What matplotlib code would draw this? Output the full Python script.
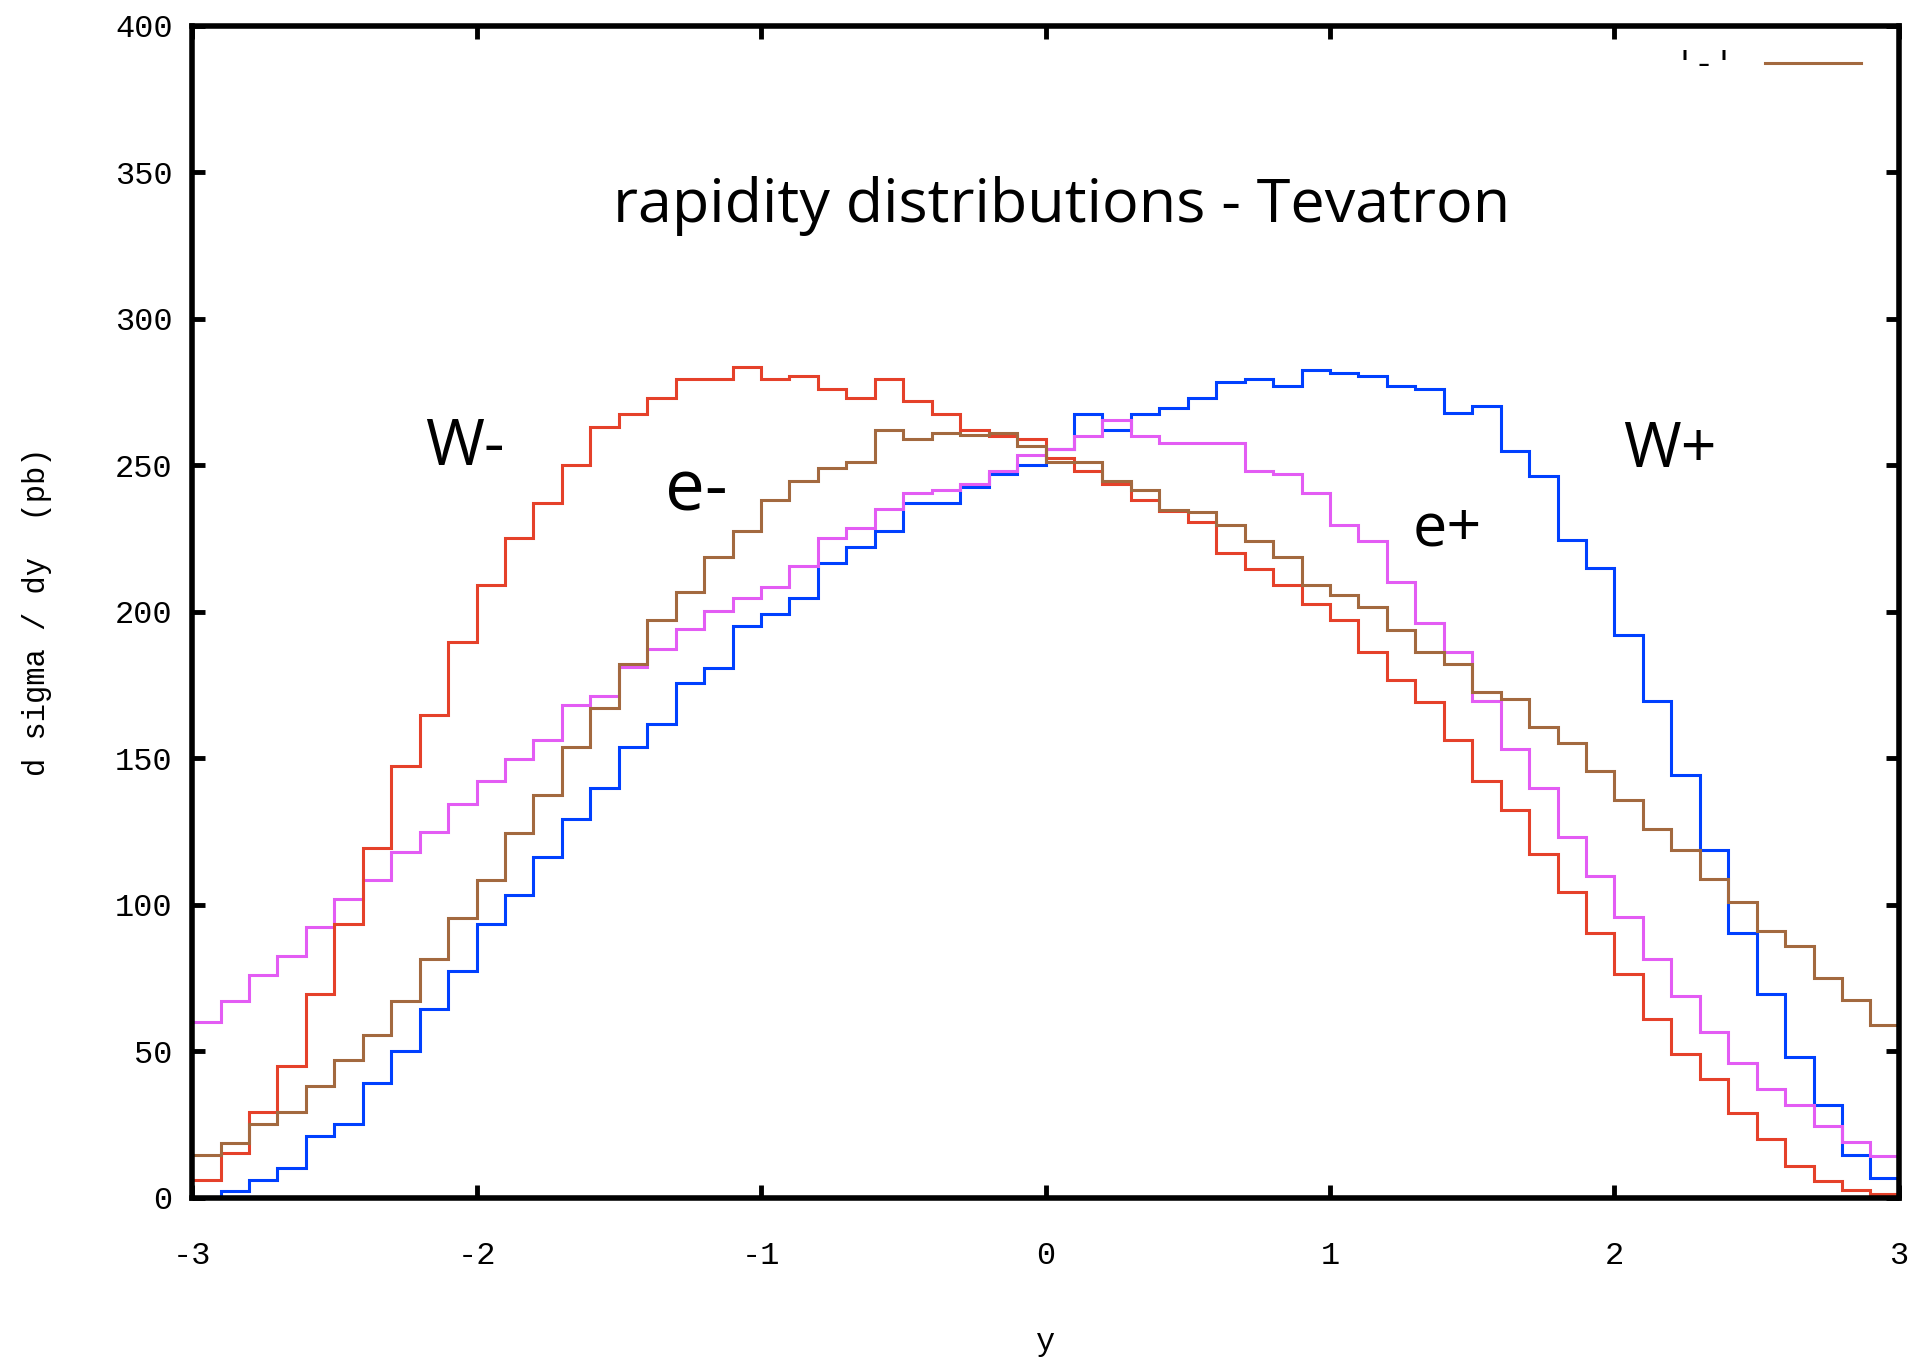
import numpy as np
import matplotlib
matplotlib.use('Agg')
import matplotlib.pyplot as plt

# bin edges in rapidity y (60 bins of 0.1)
edges = np.linspace(-3, 3, 61)

# d sigma / dy (pb), read bin by bin from the plot
w_minus = [6, 15.4, 29.4, 44.8, 69.6, 93.3, 119.3, 147.5, 164.7, 189.6,
           209.1, 225.2, 237.1, 250.1, 263.1, 267.6, 273, 279.5, 279.5, 283.6,
           279.5, 280.5, 276.1, 273, 279.5, 272, 267.6, 262.2, 260.1, 259,
           252.4, 248.2, 243.7, 238.2, 234.3, 230.6, 219.9, 214.6, 209.1, 202.6,
           197.2, 186.2, 176.7, 169.2, 156.3, 142.4, 132.4, 117.4, 104.3, 90.3,
           76.2, 61, 49.2, 40.6, 28.8, 19.9, 10.9, 5.7, 2.7, 1.4]
w_plus = [0, 2.3, 5.9, 10, 20.9, 25.3, 39.3, 50.1, 64.3, 77.3,
          93.3, 103.3, 116.3, 129.3, 139.8, 154, 161.6, 175.6, 180.9, 195.2,
          199.2, 204.7, 216.6, 222.1, 227.7, 237.2, 237.2, 242.7, 247.1, 250.2,
          255.5, 267.5, 262.2, 267.5, 269.5, 273, 278.5, 279.5, 277.2, 282.6,
          281.6, 280.6, 277.2, 276.2, 268, 270.1, 254.9, 246.3, 224.5, 215,
          192, 169.4, 144.4, 118.6, 90.5, 69.6, 48.1, 31.8, 14.5, 6.8]
e_plus = [59.8, 67.3, 76.1, 82.6, 92.3, 102, 108.5, 118.1, 124.7, 134.5,
          142.2, 149.7, 156.2, 168.1, 171.1, 181, 187.4, 194.1, 200.3, 204.7,
          208.3, 215.6, 225.2, 228.5, 235.1, 240.5, 241.6, 243.6, 248, 253.5,
          255.7, 260.1, 265.6, 260.1, 257.6, 257.6, 257.6, 248, 247.1, 240.6,
          229.6, 224.3, 210.1, 196.1, 186.2, 169.6, 153.1, 139.9, 123.1, 109.8,
          95.7, 81.4, 68.7, 56.5, 46, 37, 31.8, 24.3, 19, 14.3]
e_minus = [14.5, 18.8, 25.3, 29.4, 38.2, 46.9, 55.4, 67.3, 81.4, 95.5,
           108.5, 124.6, 137.6, 153.8, 167, 182.2, 197.2, 206.9, 218.6, 227.7,
           238.2, 244.6, 249.1, 251, 262.1, 258.9, 260.9, 260.3, 261, 256.7,
           251.2, 251.1, 244.5, 241.6, 234.8, 234, 229.6, 224.1, 218.7, 209.1,
           205.7, 201.6, 193.9, 186.2, 182.3, 172.5, 170.3, 160.6, 155.3, 145.6,
           135.8, 125.9, 118.6, 108.8, 100.9, 91.2, 85.9, 75, 67.4, 59]

xticks = [-3, -2, -1, 0, 1, 2, 3]
yticks = [0, 50, 100, 150, 200, 250, 300, 350, 400]

mono = 'Liberation Mono'
sans = 'Open Sans'

fig = plt.figure(figsize=(19.21, 13.61), dpi=100)
ax = fig.add_axes([0.1, 0.12, 0.8885, 0.861])

lw = 2.2
ax.stairs(w_plus, edges, color='#0040ff', lw=lw, baseline=None)
ax.stairs(e_plus, edges, color='#e35cf4', lw=lw, baseline=None)
ax.stairs(w_minus, edges, color='#e5412a', lw=lw, baseline=None)
ax.stairs(e_minus, edges, color='#a3693f', lw=lw, baseline=None, label="'-'")

ax.set_xlim(-3, 3)
ax.set_ylim(0, 400)
ax.set_xticks(xticks)
ax.set_yticks(yticks)
ax.set_xticklabels([str(v) for v in xticks], fontfamily=mono, fontsize=23)
ax.set_yticklabels([str(v) for v in yticks], fontfamily=mono, fontsize=23)
ax.tick_params(direction='in', length=9.5, width=3.5, top=True, right=True)
ax.tick_params(axis='x', pad=31)
ax.tick_params(axis='y', pad=14)
for s in ax.spines.values():
    s.set_linewidth(4)

ax.set_xlabel('y', fontfamily=mono, fontsize=23)
ax.set_ylabel('d sigma / dy  (pb)', fontfamily=mono, fontsize=22)
ax.xaxis.set_label_coords(0.5, -0.11)
ax.yaxis.set_label_coords(-0.082, 0.5)

ax.legend(loc='upper right', bbox_to_anchor=(0.978, 0.979), frameon=False,
          markerfirst=False, prop={'family': mono, 'size': 24},
          handlelength=2.9, handletextpad=0.9, borderpad=0, borderaxespad=0)

ax.text(0.058, 333, 'rapidity distributions - Tevatron', fontfamily=sans,
        fontsize=44, ha='center', va='baseline')
ax.text(-2.181, 250, 'W-', fontfamily=sans, fontsize=46, va='baseline')
ax.text(-1.337, 234.5, 'e-', fontfamily=sans, fontsize=51, va='baseline')
ax.text(1.292, 222.5, 'e+', fontfamily=sans, fontsize=44, va='baseline')
ax.text(2.03, 249.5, 'W+', fontfamily=sans, fontsize=45, va='baseline')

fig.savefig('out.png', dpi=100)
